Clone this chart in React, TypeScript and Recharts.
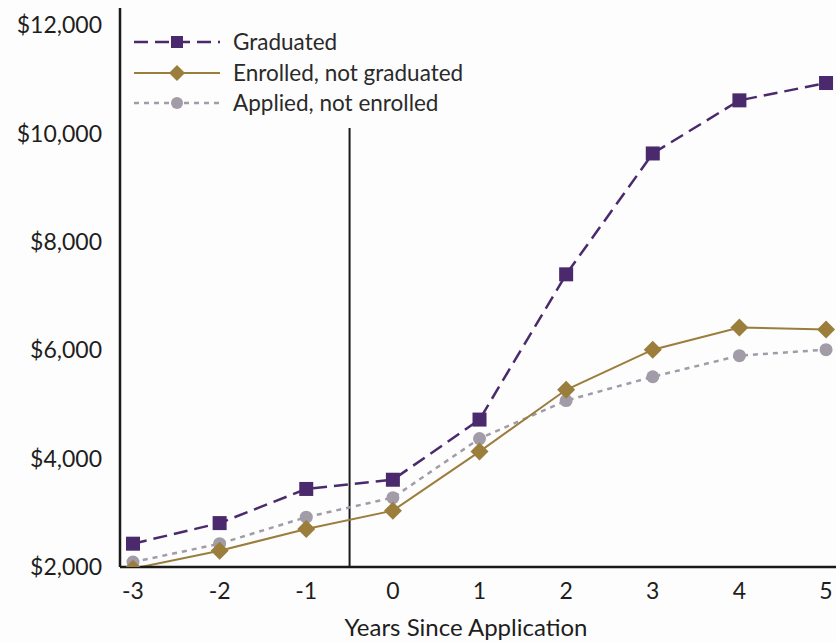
import React from "react"
import { LineChart, Line, XAxis, YAxis, ReferenceLine } from "recharts"

const years = [-3, -2, -1, 0, 1, 2, 3, 4, 5]
const graduated = [2430, 2810, 3440, 3610, 4720, 7400, 9630, 10610, 10930]
const enrolled = [1970, 2300, 2700, 3040, 4130, 5270, 6010, 6420, 6380]
const applied = [2090, 2430, 2920, 3280, 4370, 5070, 5510, 5900, 6010]
const yTicks = [2000, 4000, 6000, 8000, 10000, 12000]

const PURPLE = "#4a2a6c"
const GOLD = "#9b7d3c"
const GRAY = "#a19ca8"
const FONT = "Lato, 'Open Sans', sans-serif"

const data = years.map((year, i) => ({
  year,
  graduated: graduated[i],
  enrolled: enrolled[i],
  applied: applied[i],
}))

const SquareDot = (props: any) => {
  const { cx, cy } = props
  return <rect x={cx - 7} y={cy - 7} width={14} height={14} fill={PURPLE} />
}

const DiamondDot = (props: any) => {
  const { cx, cy } = props
  return <path d={`M${cx},${cy - 9} L${cx + 9},${cy} L${cx},${cy + 9} L${cx - 9},${cy} Z`} fill={GOLD} />
}

const CircleDot = (props: any) => {
  const { cx, cy } = props
  return <circle cx={cx} cy={cy} r={6.5} fill={GRAY} />
}

const legendItems = [
  { label: "Graduated", color: PURPLE, dash: "14 7", width: 2.5, marker: "square" },
  { label: "Enrolled, not graduated", color: GOLD, dash: undefined, width: 2, marker: "diamond" },
  { label: "Applied, not enrolled", color: GRAY, dash: "5 5", width: 2.5, marker: "circle" },
]

const ChartLegend = () => (
  <div style={{ position: "absolute", left: 134, top: 27, fontFamily: FONT, fontSize: 22.5, color: "#2a2a2a", lineHeight: 1 }}>
    {legendItems.map((item) => (
      <div key={item.label} style={{ display: "flex", alignItems: "center", height: 30.5 }}>
        <svg width={90} height={20} style={{ marginRight: 9 }}>
          <line x1={0} y1={10} x2={86} y2={10} stroke={item.color} strokeWidth={item.width} strokeDasharray={item.dash} />
          {item.marker === "square" && <rect x={37} y={4} width={12} height={12} fill={item.color} />}
          {item.marker === "diamond" && <path d="M43,2 L51,10 L43,18 L35,10 Z" fill={item.color} />}
          {item.marker === "circle" && <circle cx={43} cy={10} r={6} fill={item.color} />}
        </svg>
        <span>{item.label}</span>
      </div>
    ))}
  </div>
)

const App: React.FC = () => {
  return (
    <div style={{ position: "absolute", left: 0, top: 0, width: 836, height: 642, background: "#fdfdfd" }}>
      <LineChart width={836} height={642} data={data} margin={{ top: 8, right: 0, bottom: 0, left: 0 }}>
        <XAxis
          dataKey="year"
          type="number"
          domain={[-3.15, 5.115]}
          ticks={years}
          allowDataOverflow
          tickLine={false}
          tickSize={0}
          tickMargin={16}
          height={75}
          axisLine={{ stroke: "#1a1a1a", strokeWidth: 2.5 }}
          tick={{ fill: "#1e1e1e", fontSize: 23, fontFamily: FONT }}
          label={{ value: "Years Since Application", position: "insideBottom", offset: 6, dx: -12, fill: "#1e1e1e", fontSize: 24, fontFamily: FONT }}
        />
        <YAxis
          type="number"
          domain={[2000, 12314]}
          ticks={yTicks}
          allowDataOverflow
          width={120}
          tickLine={false}
          tickSize={0}
          tickMargin={18}
          axisLine={{ stroke: "#1a1a1a", strokeWidth: 2.5 }}
          tick={{ fill: "#1e1e1e", fontSize: 23, fontFamily: FONT }}
          tickFormatter={(v: number) => `$${v.toLocaleString("en-US")}`}
        />
        <ReferenceLine
          segment={[{ x: -0.5, y: 2000 }, { x: -0.5, y: 10100 }]}
          stroke="#1a1a1a"
          strokeWidth={2}
        />
        <Line
          dataKey="applied"
          stroke={GRAY}
          strokeWidth={2.5}
          strokeDasharray="5 5"
          dot={<CircleDot />}
          activeDot={false}
          isAnimationActive={false}
        />
        <Line
          dataKey="enrolled"
          stroke={GOLD}
          strokeWidth={2}
          dot={<DiamondDot />}
          activeDot={false}
          isAnimationActive={false}
        />
        <Line
          dataKey="graduated"
          stroke={PURPLE}
          strokeWidth={2.5}
          strokeDasharray="14 7"
          dot={<SquareDot />}
          activeDot={false}
          isAnimationActive={false}
        />
      </LineChart>
      <ChartLegend />
    </div>
  )
}

export default App
